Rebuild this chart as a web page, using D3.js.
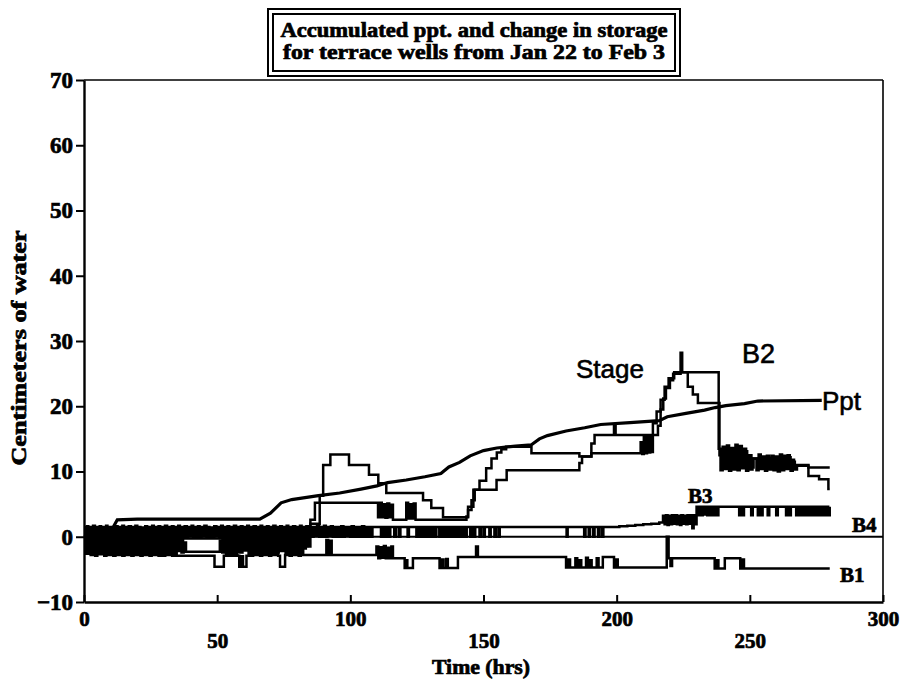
<!DOCTYPE html>
<html>
<head>
<meta charset="utf-8">
<script src="https://cdn.jsdelivr.net/npm/d3@7"></script>
<style>
  body { margin: 0; background: #fff; }
  svg { display: block; }
</style>
</head>
<body>
<svg id="chart" width="907" height="690"></svg>
<script>
// ---------- data ----------
const titleLines = ["Accumulated ppt. and change in storage", "for terrace wells from Jan 22 to Feb 3"];
const yTicks = [-10, 0, 10, 20, 30, 40, 50, 60, 70];
const xTicksUpper = [0, 100, 200, 300];
const xTicksLower = [50, 150, 250];

// accumulated precipitation, cm  [hours, value]
const ppt = [[0,0],[4,0.4],[8,0.9],[11,1.5],[12.5,2.6],[20,2.7],[66,2.7],[70,3.6],[74,5.2],[78,5.7],[88,6.3],[96,6.7],[104,7.3],[110,7.8],[114,8.3],[121,8.7],[128,9.2],[134,9.7],[137,10.7],[141,11.4],[145,12.4],[150,13.2],[155,13.6],[162,13.9],[168,14.1],[171,15.0],[174,15.5],[181,16.2],[188,16.7],[194,17.2],[205,17.5],[216,17.8],[219,18.4],[226,18.9],[233,19.4],[237,19.8],[241,20.1],[248,20.4],[253,20.8],[277,20.9]];

// stream stage, cm
const stage = [[0,0.9],[0.7,-0.9],[1.4,0.6],[2.2,-1.1],[2.9,0.4],[3.7,-1.3],[4.4,0.5],[5.2,-0.8],[5.9,0.7],[6.8,-1.2],[7.5,0.3],[8.3,-1.4],[9.0,0.2],[9.8,-1.0],[10.5,0.4],[11.3,-1.5],[12.0,0.1],[12.8,-1.3],[13.5,0.3],[14.3,-1.6],[15.0,0.0],[15.8,-1.4],[16.5,0.2],[17.4,-1.5],[18.1,-0.1],[18.9,-1.6],[19.6,0.1],[20.5,-1.3],[21.2,-0.2],[22.0,-1.6],[22.8,0.0],[23.6,-1.4],[24.3,0.2],[25.2,-1.5],[26.0,-0.1],[26.8,-1.6],[27.5,0.1],[28.4,-1.3],[29.1,-0.2],[30.0,-1.5],[30.8,0.0],[31.6,-1.6],[32.3,-0.1],[33.2,-1.4],[34.0,0.1],[34.8,-1.5],[35.6,-0.2],[36.4,-1.3],[37.2,-0.1],[38.0,-0.25],
  [52,-1.4],[52.8,0.1],[53.6,-1.5],[54.4,-0.1],[55.2,-1.6],[56,0.2],[56.9,-1.3],[57.7,0],[58.5,-1.5],[59.3,0.2],[60.1,-1.4],[60.9,0.1],[61.8,-1.6],[62.6,0.3],[63.4,-1.2],[64.2,0.2],[65.0,-1.5],[65.9,0.1],[66.7,-1.4],[67.5,0.3],[68.4,-1.3],[69.2,0.1],[70.0,-1.6],[70.8,0.2],[71.7,-1.4],[72.5,0.1],[73.3,-1.5],[74.1,0.3],[75.0,-1.2],[75.8,0.2],[76.6,-1.5],[77.4,0.0],[78.3,-1.3],[79.1,0.2],[79.9,-1.5],[80.7,0.3],[81.6,-1.2],[82.4,0.1],[83.2,-1.4],[84.0,0.3],
  [85.0,2.0],[88.5,6.3],[89.8,11.0],[92.5,12.6],[99.5,11.0],[107,9.5],[110.5,8.2],[113.5,6.7],[127.3,5.6],[130.4,4.4],[134.8,3.0],[144.2,4.1],[145.5,5.6],[146.7,7.2],[148.5,8.6],[151,10.5],[153,12.0],[155,12.9],[156.7,13.4],[158.5,13.8],[168,12.8],[186,12.3],[190.5,14.3],[191.7,15.6],[199,17.2],[199.6,15.6],
  [215.5,17.0],[216.5,19.5],[217.5,21.2],[218.5,22.8],[220,24.0],[221.2,25.0],[224,28.2],[224.6,25.2],[226.7,23.0],[228.6,21.8],[230.5,20.5],
  [238.6,12.5],[239.4,10.6],[240.2,13.2],[241.0,10.8],[241.8,12.6],[242.6,10.5],[243.4,13.5],[244.2,11.0],[245.0,13.4],[245.8,10.6],[246.6,12.8],[247.4,10.7],[248.2,13.1],[249.0,10.9],[249.8,12.5],[250.6,10.6],[251.4,12.0],[253,12.0],[254,10.8],[254.8,12.2],[255.6,10.6],[256.4,12.4],[257.2,10.9],[258,12.1],[258.8,10.6],[259.6,11.2],[261,11.2],[261.8,10.6],[262.6,12.4],[263.4,10.8],[264.2,12.5],[265,10.7],[265.8,11.8],[266.6,10.6],[267.4,11.0],[272,10.6],[280,10.6]];

// well B2, change in storage, cm
const b2 = [[0,-0.3],[0.9,-2.0],[1.7,-0.6],[2.6,-2.3],[3.4,-0.4],[4.3,-1.8],[5.1,-0.7],[6.0,-2.4],[6.8,-0.5],[7.7,-2.2],[8.5,-0.8],[9.4,-2.5],[10.2,-0.6],[11.1,-2.1],[11.9,-0.4],[12.8,-2.4],[13.6,-0.7],[14.5,-2.2],[15.3,-0.5],[16.2,-2.5],[17.0,-0.8],[17.9,-2.3],[18.7,-0.6],[19.6,-2.4],[20.4,-0.5],[21.3,-2.0],[22.1,-0.7],[23.0,-2.5],[23.8,-0.6],[24.7,-2.2],[25.5,-0.4],[26.4,-2.4],[27.2,-0.8],[28.1,-2.3],[28.9,-0.5],[29.8,-2.5],[30.6,-0.7],[31.5,-2.1],[32.3,-0.6],[33.2,-2.4],[34.0,-0.5],[34.9,-2.2],[35.7,-0.7],[36.6,-2.4],[37.4,-0.9],[38.3,-2.3],
  [51,-0.6],[51.9,-2.4],[52.7,-0.8],[53.6,-2.2],[54.4,-0.5],[55.3,-2.5],[56.1,-0.7],[57.0,-2.3],[57.8,-0.4],[58.7,-2.4],[59.5,-0.6],[60.4,-2.1],[61.2,-0.5],[62.1,-2.4],[62.9,-0.8],[63.8,-2.2],[64.6,-0.5],[65.5,-2.5],[66.3,-0.6],[67.2,-2.3],[68.0,-0.7],[68.9,-2.4],[69.7,-0.4],[70.6,-2.0],[71.4,-0.6],[72.3,-2.4],[73.1,-0.5],[74.0,-2.2],[74.8,-0.7],[75.7,-2.5],[76.5,-0.5],[77.4,-2.1],[78.2,-0.6],[79.1,-2.3],[79.9,-0.4],[80.8,-2.0],[81.6,-0.5],[82.5,-1.8],[83.3,-0.4],[84.2,-1.5],
  [85.0,2.6],[86.7,5.2],[110.4,3.0],[111.1,5.2],[111.8,3.0],[112.5,5.0],[113.2,2.9],[113.9,5.1],[114.6,3.0],[115.3,4.9],[116.0,2.6],[121,5.2],[121.7,2.8],[122.4,5.0],[123.1,2.8],[123.8,5.1],[124.5,2.6],
  [143.6,3.1],[144.2,4.6],[146.2,7.2],[154.9,8.7],[158.7,10.2],[186,11.3],[187,12.3],[190.5,12.8],[209,14.5],[209.6,12.7],[210.2,15.4],[210.8,12.8],[211.4,15.5],[212,12.9],[212.6,15.3],[213.2,13.0],
  [213.6,17.4],[215,19.2],[216.5,21.0],[218,23.0],[219.5,24.3],[221.6,25.2],
  [238.3,13.5],[239.0,10.2],[239.8,13.8],[240.6,10.4],[241.4,14.0],[242.2,10.1],[243.0,13.6],[243.8,10.3],[244.6,14.1],[245.4,10.2],[246.2,13.9],[247.0,10.5],[247.8,13.5],[248.6,10.1],[249.4,12.2],[250.2,10.3],[251,12.0],[252.5,10.2],[253.3,12.6],[254.1,10.4],[254.9,12.3],[255.7,10.1],[256.5,12.0],[257.3,10.3],[258.1,12.4],[258.9,10.2],[259.7,12.3],[260.5,10.0],[261.3,12.6],[262.1,10.2],[262.9,12.0],[263.7,10.4],[264.5,12.2],[265.3,10.1],[266.1,11.5],[266.9,10.3],[267.7,10.9],[272,9.3],[276,8.8],[279.5,7.3],[280,7.3]];

// well B3
const b3 = [[0,1.5],[0.5,0],[1.1,1.6],[1.6,0.1],[2.4,1.5],[2.9,0],[3.4,1.7],[4.1,0],[4.6,1.5],[5.4,0.2],[5.9,1.6],[6.4,0],[7.2,1.5],[7.7,0],[8.3,1.7],[8.8,0.1],[9.6,1.5],[10.2,0],[10.7,1.4],[11.5,0],[12.0,1.6],[12.6,0],[13.1,1.5],[13.9,0.1],[14.4,1.7],[15.0,0],[15.7,1.5],[16.3,0],[16.8,1.6],[17.6,0],[18.1,1.5],[18.7,0.2],[19.3,1.7],[20.0,0],[20.5,1.5],[21.2,0],[21.8,1.4],[22.5,0],[23.0,1.6],[23.7,0.1],[24.3,1.5],[24.8,0],[25.6,1.7],[26.2,0],[26.7,1.5],[27.5,0],[28.0,1.6],[28.6,0.1],[29.3,1.5],[29.9,0],[30.4,1.7],[31.2,0],[31.7,1.5],[32.3,0],[33.0,1.6],[33.6,0.2],[34.1,1.5],[34.9,0],[35.4,1.7],[36.0,0],[36.7,1.5],[37.3,0],[37.8,1.6],[38.6,0],[39.1,1.5],[39.7,0.1],[40.4,1.7],[41.0,0],[41.5,1.5],[42.3,0],[42.8,1.6],[43.4,0],[44.1,1.5],[44.7,0.1],[45.2,1.7],[46.0,0],[46.5,1.5],[47.1,0],[47.8,1.4],[48.4,0],[48.9,1.6],[49.7,0.1],[50.2,1.5],[50.8,0],[51.5,1.7],[52.1,0],[52.6,1.5],[53.4,0],[53.9,1.6],[54.5,0.2],[55.2,1.5],[55.8,0],[56.3,1.7],[57.1,0],[57.6,1.5],[58.2,0],[58.9,1.6],[59.5,0.1],[60.0,1.5],[60.8,0],[61.3,1.7],[61.9,0],[62.6,1.5],[63.2,0],[63.7,1.6],[64.5,0.1],[65.0,1.5],[65.6,0],[66.3,1.7],[66.9,0],[67.4,1.5],[68.2,0],[68.7,1.6],[69.3,0.1],[70.0,1.5],[70.6,0],[71.1,1.7],[71.9,0],[72.4,1.5],[73.0,0],[73.7,1.6],[74.3,0.2],[74.8,1.5],[75.6,0],[76.1,1.7],[76.7,0],[77.4,1.5],[78.0,0],[78.5,1.6],[79.3,0.1],[79.8,1.5],[80.4,0],[81.1,1.7],[81.7,0],[82.2,1.5],[83.0,0],[83.5,1.6],[84.1,0],[84.8,1.5],
  [85.6,0],[86.2,1.5],[86.9,0.1],[87.5,1.6],[88.3,0],[88.8,1.5],[89.5,0],[90.1,1.7],[90.8,0],[91.4,1.5],[92.1,0.1],[92.7,1.6],[93.4,0],[94.0,1.5],[94.7,0],[95.3,1.5],[96.0,0],[96.6,1.6],[97.4,0],[97.9,1.5],[98.6,0.1],[99.2,1.5],[99.9,0],[100.5,1.6],[101.3,0],[101.8,1.5],[102.5,0],[103.1,1.5],[103.8,0],[104.4,1.6],[105.2,0],[105.7,1.5],[106.4,0],[107.0,1.5],[107.7,0],[108.3,1.5],
  [111.5,0],[112.2,1.5],[113.0,0],[113.6,1.5],[114.4,0],[115.0,1.5],[116.5,0],[117.1,1.5],[118.2,0],[118.8,1.5],[121.5,0],[122.0,1.5],[124.8,0],[125.3,1.5],[126.2,0],[126.7,1.5],[127.6,0],[128.1,1.5],[129.0,0],[129.5,1.5],[130.4,0],[130.9,1.5],[131.8,0],[132.3,1.5],
  [133.4,0],[134.0,1.5],[134.6,0],[135.1,1.5],[135.9,0],[136.4,1.5],[137.0,0],[137.6,1.5],[138.3,0],[138.8,1.5],[139.5,0],[140.0,1.5],[140.6,0],[141.3,1.5],[141.8,0],[142.4,1.5],[143.2,0],[143.7,1.5],[145.0,0],[145.5,1.5],[146.4,0],[146.9,1.5],[148.5,0],[149.0,1.5],[150.0,0],[150.5,1.5],[152.2,0],[152.7,1.5],[154.1,0],[154.6,1.5],[155.6,0],[156.1,1.5],
  [181.2,0],[181.6,1.5],[187.8,0],[188.3,1.5],[189.5,0],[190.0,1.5],[191.2,0],[191.7,1.5],[193.0,0],[193.5,1.5],[194.5,0],[195.0,1.5],
  [201,1.6],[204,1.7],[207,1.8],[210,1.9],[213,2.0],[216,2.2],
  [217.4,3.2],[218.0,1.9],[218.5,3.3],[219.1,1.8],[219.6,3.2],[220.3,1.9],[220.8,3.3],[221.4,2.0],[222.0,3.3],[222.6,1.9],[223.1,3.2],[223.8,1.8],[224.3,3.3],[224.9,2.0],[225.5,3.2],[226.1,1.9],[226.6,3.3],[227.3,2.0],[227.8,3.3],[228.4,1.3],[228.9,3.3],[229.5,1.9],[230.0,4.6],[230.6,3.3],[231.2,4.6],[231.8,3.3],[232.3,4.6],[232.9,3.4],[233.4,4.6],[234.0,3.3],[234.6,4.6],[235.2,3.3],[235.8,4.6],[236.4,3.3],[237.0,4.6],[237.6,3.3],[238.2,4.6],
  [246.0,3.3],[246.6,4.6],[247.2,3.3],[247.8,4.6],[250.5,3.3],[251.1,4.6],[253.0,3.3],[253.6,4.6],[254.2,3.3],[254.8,4.6],[256.7,3.3],[257.3,4.6],[259.9,3.3],[260.5,4.6],[263.6,3.3],[264.2,4.6],[264.8,3.3],[265.4,4.6],[267.4,3.3],[268.0,4.6],[268.6,3.3],[269.2,4.6],[269.8,3.3],[270.4,4.6],[271.0,3.3],[271.6,4.6],[272.2,3.3],[272.8,4.6],[273.4,3.3],[274.0,4.6],[274.6,3.3],[275.2,4.6],[275.8,3.3],[276.4,4.6],[277.0,3.3],[277.6,4.6],[278.2,3.3],[278.8,4.6],[279.4,3.3],[280,4.6]];

// well B4
const b4 = [[0,0],[300,0]];

// well B1
const b1 = [[0,-1.0],[0.8,-2.6],[1.6,-1.2],[2.5,-2.8],[3.3,-1.5],[4.2,-2.9],[5.0,-1.1],[5.9,-2.7],[6.7,-1.4],[7.6,-2.9],[8.4,-1.2],[9.3,-2.8],[10.1,-1.6],[11.0,-2.9],[11.8,-1.3],[12.7,-2.8],[13.5,-1.5],[14.4,-2.9],[15.2,-1.8],[16.1,-2.8],[16.9,-1.4],[17.8,-2.9],[18.6,-1.6],[19.5,-2.8],[20.3,-1.3],[21.2,-2.9],[22.0,-1.7],[22.9,-2.8],[23.7,-1.5],[24.6,-2.9],[25.4,-1.2],[26.3,-2.8],[27.1,-1.6],[28.0,-2.9],[28.8,-1.8],[29.7,-2.9],[30.5,-1.5],[31.4,-2.8],[32.2,-1.9],[33.1,-2.9],[33.9,-1.6],[34.8,-2.9],
  [49,-4.6],[52.5,-2.9],[53.3,-1.6],[54.2,-2.9],[55.0,-1.8],[55.9,-2.9],[56.7,-1.5],[57.6,-2.9],[58.3,-4.6],[59.1,-3.0],[59.7,-4.6],[61,-2.9],[61.8,-1.5],[62.7,-2.9],[63.5,-1.3],[64.4,-2.8],[65.2,-1.6],[66.1,-2.9],[66.9,-1.2],[67.8,-2.8],[68.6,-1.5],[69.5,-2.9],[70.3,-1.4],[71.2,-2.8],[72.0,-1.7],[72.9,-2.9],[73.6,-4.6],[75.5,-2.8],[76.3,-1.3],[77.2,-2.9],[78.0,-1.6],[78.9,-2.8],[79.7,-1.2],[80.6,-2.9],[81.4,-1.5],[82.3,-2.8],
  [91,-0.5],[91.7,-2.8],[92.3,-0.6],[93,-2.8],
  [109.8,-1.5],[110.5,-3.3],[111.2,-1.6],[111.9,-3.2],[112.6,-1.4],[113.3,-3.3],[114.0,-1.7],[114.7,-3.3],[115.4,-1.5],[116.0,-3.3],[120.4,-4.8],[120.9,-3.6],[121.4,-4.8],[123.5,-3.3],[133.5,-4.8],[134.3,-3.5],[135,-4.8],[136,-3.4],[136.6,-4.8],[140.4,-3.1],[147.2,-1.5],[147.9,-3.1],
  [181,-4.7],[181.8,-3.5],[182.5,-4.7],[184.5,-3.3],[185.2,-4.7],[186,-3.6],[186.7,-4.7],[188.5,-3.2],[189.2,-4.7],[190,-3.6],[190.6,-4.7],[192.5,-3.3],[193.2,-4.7],[194.8,-3.1],[199,-4.7],[199.8,-3.5],[200.4,-4.7],
  [218.8,0],[219.5,-3.3],[220.2,-4.5],[220.8,-3.3],[236.8,-4.85],[237.6,-3.6],[238.2,-4.85],[240.6,-3.3],[246.4,-4.85],[247.2,-3.5],[247.8,-4.85],[280,-4.85]];

// ---------- drawing ----------
const svg = d3.select("#chart");
const x = d3.scaleLinear().domain([0, 300]).range([84, 883]);
const y = d3.scaleLinear().domain([-10, 70]).range([602, 80]);
const serif = "'Liberation Serif', 'DejaVu Serif', serif";
const sans = "'Liberation Sans', Arial, sans-serif";

// heavy print look for serif text
const heavy = sel => sel.attr("font-family", serif).attr("font-weight", "bold")
  .attr("fill", "#000").attr("stroke", "#000").attr("stroke-width", 0.7);

// plot frame (top and right edges)
const frame = svg.append("g").attr("stroke", "#000").attr("fill", "none");
frame.append("line").attr("x1", x(0)).attr("x2", x(300)).attr("y1", y(70)).attr("y2", y(70)).attr("stroke-width", 1.6);
frame.append("line").attr("x1", x(300)).attr("x2", x(300)).attr("y1", y(70)).attr("y2", y(-10)).attr("stroke-width", 1.6);

// y axis
const yAxis = svg.append("g")
  .attr("transform", `translate(${x(0)},0)`)
  .call(d3.axisLeft(y).tickValues(yTicks).tickSize(8).tickSizeOuter(0).tickPadding(3));
yAxis.select(".domain").attr("stroke-width", 2.4);
yAxis.selectAll(".tick line").attr("stroke-width", 2);
yAxis.selectAll(".tick text").call(heavy).attr("font-size", 23);

// x axis: two staggered label rows
const xAxis = svg.append("g")
  .attr("transform", `translate(0,${y(-10)})`)
  .call(d3.axisBottom(x).tickValues(xTicksUpper).tickSizeInner(-7).tickSizeOuter(0).tickPadding(9));
xAxis.select(".domain").attr("stroke-width", 2.4);
const xAxis2 = svg.append("g")
  .attr("transform", `translate(0,${y(-10)})`)
  .call(d3.axisBottom(x).tickValues(xTicksLower).tickSizeInner(-7).tickSizeOuter(0).tickPadding(31));
xAxis2.select(".domain").remove();
svg.selectAll(".tick line").attr("stroke-width", 2);
[xAxis, xAxis2].forEach(g => g.selectAll(".tick text").call(heavy).attr("font-size", 21));

// zero/B4 line and well series
const stepLine = d3.line().x(d => x(d[0])).y(d => y(d[1])).curve(d3.curveStepAfter);
const smoothLine = d3.line().x(d => x(d[0])).y(d => y(d[1])).curve(d3.curveLinear);
const series = [
  { data: b4, w: 2.2, gen: stepLine },
  { data: b1, w: 2.5, gen: stepLine },
  { data: b3, w: 2.5, gen: stepLine },
  { data: b2, w: 2.5, gen: stepLine },
  { data: stage, w: 2.5, gen: stepLine },
  { data: ppt, w: 3.2, gen: smoothLine }
];
svg.append("g").selectAll("path").data(series).join("path")
  .attr("d", s => s.gen(s.data))
  .attr("fill", "none").attr("stroke", "#000")
  .attr("stroke-width", s => s.w)
  .attr("stroke-linejoin", "miter");

// series labels
const labels = svg.append("g").attr("fill", "#000");
labels.append("text").text("Stage").attr("x", x(184.7)).attr("y", y(24.3))
  .attr("font-family", sans).attr("font-size", 26).attr("stroke", "#000").attr("stroke-width", 0.6);
labels.append("text").text("B2").attr("x", x(247.1)).attr("y", y(26.6))
  .attr("font-family", sans).attr("font-size", 27).attr("stroke", "#000").attr("stroke-width", 0.6);
labels.append("text").text("Ppt").attr("x", x(277.1)).attr("y", y(19.4))
  .attr("font-family", sans).attr("font-size", 26).attr("stroke", "#000").attr("stroke-width", 0.6);
labels.append("text").text("B3").attr("x", x(226.8)).attr("y", y(5.2)).call(heavy).attr("font-size", 21);
labels.append("text").text("B4").attr("x", x(288.4)).attr("y", y(0.7)).call(heavy).attr("font-size", 21);
labels.append("text").text("B1").attr("x", x(283.9)).attr("y", y(-6.9)).call(heavy).attr("font-size", 21);

// axis titles
svg.append("text").text("Time (hrs)")
  .attr("x", 481).attr("y", 674).attr("text-anchor", "middle")
  .call(heavy).attr("font-size", 20)
  .attr("textLength", 98).attr("lengthAdjust", "spacingAndGlyphs");
svg.append("text").text("Centimeters of water")
  .attr("transform", "translate(26,348) rotate(-90)").attr("text-anchor", "middle")
  .call(heavy).attr("font-size", 20)
  .attr("textLength", 235).attr("lengthAdjust", "spacingAndGlyphs");

// title box with double border
const tb = svg.append("g");
tb.append("rect").attr("x", 268).attr("y", 9).attr("width", 412).attr("height", 67)
  .attr("fill", "#fff").attr("stroke", "#000").attr("stroke-width", 2);
tb.append("rect").attr("x", 273).attr("y", 14).attr("width", 402).attr("height", 57)
  .attr("fill", "none").attr("stroke", "#000").attr("stroke-width", 2);
const tWidths = [387, 382];
titleLines.forEach((t, i) => {
  tb.append("text").text(t)
    .attr("x", 474).attr("y", 37 + i * 22).attr("text-anchor", "middle")
    .call(heavy).attr("font-size", 20)
    .attr("textLength", tWidths[i]).attr("lengthAdjust", "spacingAndGlyphs");
});
</script>
</body>
</html>
